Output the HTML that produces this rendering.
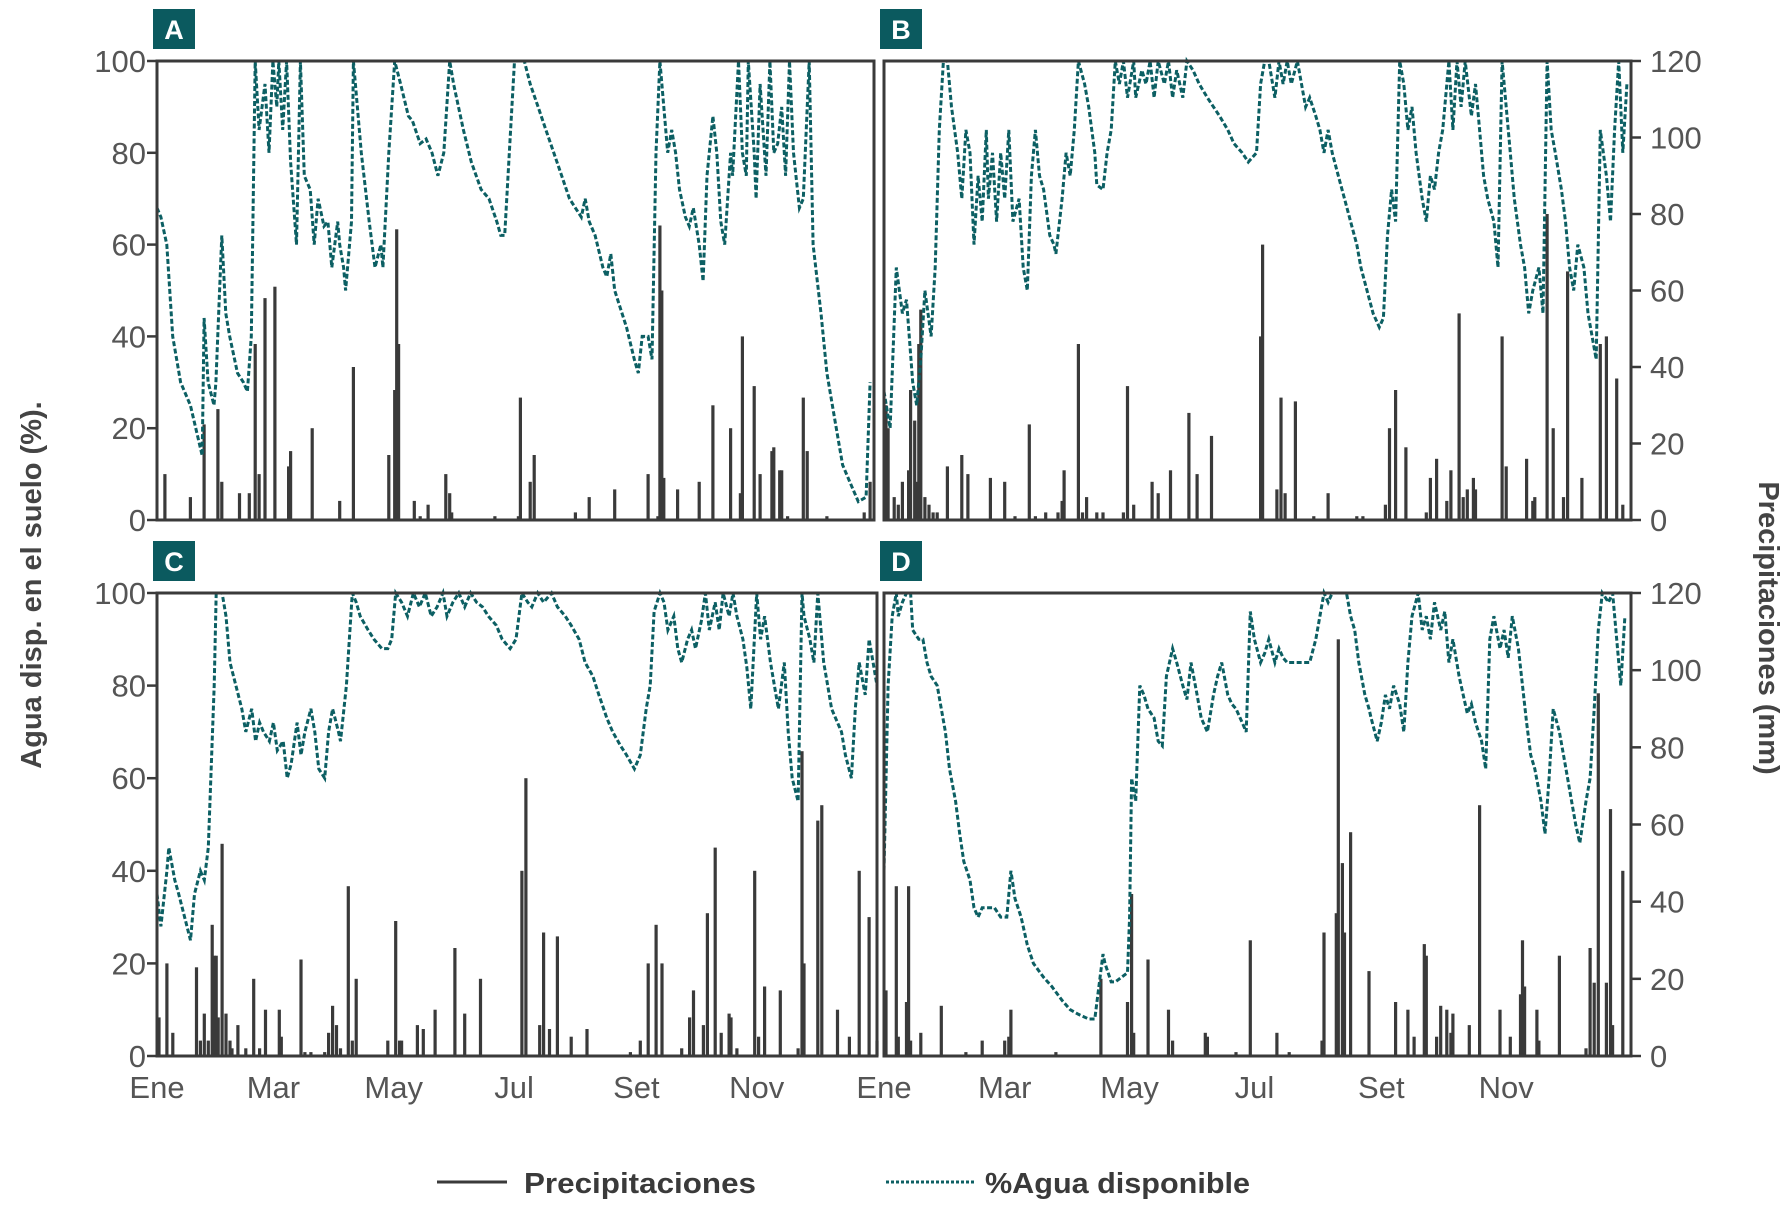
<!DOCTYPE html>
<html><head><meta charset="utf-8"><style>
html,body{margin:0;padding:0;background:#fff;}
svg{display:block;font-family:"Liberation Sans",sans-serif;}
</style></head><body>
<svg id="chart" width="1791" height="1207" viewBox="0 0 1791 1207" xmlns="http://www.w3.org/2000/svg"></svg>
<script>
const monthLabels=["Ene","Mar","May","Jul","Set","Nov"];
const monthDays=[0,59,120,181,243,304];
const leftTicks=[0,20,40,60,80,100];
const rightTicks=[0,20,40,60,80,100,120];
const panelLetters=["A","B","C","D"];
// Panel A
const waterDaysA=[0,2,5,8,12,17,23,24,26,29,30,33,35,37,41,44,46,48,50,52,55,57,59,61,62,64,66,68,71,73,75,78,80,82,85,87,89,92,93,95,96,99,100,101,104,108,111,114,115,118,121,124,128,130,134,137,140,143,146,149,151,156,160,165,169,173,175,177,180,182,187,190,194,198,202,206,210,213,216,218,220,223,227,229,231,233,236,239,243,245,247,250,252,254,256,258,260,262,264,266,269,271,273,276,278,280,283,285,287,289,292,293,296,298,300,301,304,305,307,310,312,314,316,318,320,322,324,327,329,332,334,338,341,345,349,353,357,361,363];
const waterValsA=[68,66,60,40,30,25,14,44,30,25,30,62,45,40,32,30,28,40,100,85,95,80,100,90,100,85,100,78,60,100,75,72,60,70,64,65,55,65,60,55,50,65,100,95,80,65,55,60,55,80,100,95,88,87,82,83,80,75,80,100,95,85,78,72,70,65,62,62,85,100,100,95,90,85,80,75,70,68,66,70,65,62,55,53,58,50,46,42,35,32,40,40,35,80,100,90,80,85,80,72,66,64,68,60,52,75,88,80,65,60,80,75,100,80,75,100,80,70,95,75,100,80,82,90,75,100,80,68,70,100,60,45,32,22,12,8,4,5,30];
const rainDaysA=[4,17,24,31,33,42,47,50,52,55,60,67,68,79,93,100,118,121,122,123,131,134,138,147,149,150,172,184,185,190,192,213,220,233,250,255,256,257,258,265,276,283,292,297,298,304,307,313,314,317,318,321,329,331,341,360,363];
const rainMmA=[12,6,25,29,10,7,7,46,12,58,61,14,18,24,5,40,17,34,76,46,5,1,4,12,7,2,1,1,32,10,17,2,6,8,12,1,77,60,11,8,10,30,24,7,48,35,12,18,19,13,13,1,32,18,1,2,10];
// Panel B
const waterDaysB=[0,3,6,9,11,14,16,18,20,23,25,27,29,31,33,36,38,40,42,44,46,48,50,51,53,55,57,59,61,63,66,68,70,72,74,76,78,81,83,84,87,89,91,93,95,98,100,103,104,107,109,111,113,115,117,119,122,123,126,128,130,132,134,137,139,141,143,146,148,151,154,158,161,164,168,171,175,178,182,184,186,188,191,193,195,197,199,202,204,206,208,211,213,215,217,219,222,225,228,231,233,236,239,242,244,246,248,250,252,254,256,258,260,263,265,267,269,271,273,276,278,280,282,284,287,289,291,293,295,298,300,302,304,306,308,311,313,315,317,320,322,324,326,328,331,333,335,337,339,342,344,346,348,350,353,355,357,359,361,363];
const waterValsB=[28,20,55,45,48,30,25,35,50,40,55,85,100,100,90,80,70,85,80,60,75,65,85,70,80,65,80,70,85,65,70,55,50,75,85,75,72,62,60,58,70,80,75,85,100,95,90,80,73,72,80,85,100,95,100,92,100,92,98,95,100,92,100,95,100,92,98,92,100,98,95,92,90,88,85,82,80,78,80,95,100,100,92,100,95,100,95,100,95,90,92,88,85,80,85,80,75,70,65,60,55,50,45,42,44,62,72,65,100,95,85,90,80,70,65,75,72,80,85,100,85,100,90,100,88,95,85,75,70,65,55,100,90,80,70,60,55,45,50,55,45,100,85,80,72,65,55,50,60,55,45,40,35,85,75,65,85,100,80,95];
const rainDaysB=[1,2,5,7,9,12,13,15,16,17,18,20,22,24,26,31,38,41,52,59,64,71,74,79,85,87,88,95,97,99,104,107,117,119,122,131,134,140,149,153,160,184,185,192,194,196,201,210,217,231,234,245,247,250,255,265,267,270,275,277,281,283,285,288,289,302,304,314,317,318,324,327,332,334,341,350,353,358,361];
const rainMmB=[30,24,6,4,10,13,34,26,10,46,55,6,4,2,2,14,17,12,11,10,1,25,1,2,2,5,13,46,2,6,2,2,2,35,4,10,7,13,28,12,22,48,72,8,32,7,31,1,7,1,1,4,24,34,19,2,11,16,5,13,54,6,8,11,8,48,14,16,5,6,80,24,6,65,11,46,48,37,4];
// Panel C
const waterDaysC=[0,2,5,6,9,11,14,17,19,22,24,26,29,30,33,35,37,40,43,45,48,50,52,54,57,59,61,64,66,68,71,73,75,78,80,82,85,87,89,92,93,96,99,101,103,107,110,114,117,119,121,124,127,130,133,136,139,142,145,147,150,153,156,159,162,165,168,172,175,179,182,185,188,190,193,196,200,203,207,210,214,217,221,224,228,231,235,238,242,245,248,250,252,255,257,259,262,264,266,269,271,273,276,278,280,283,285,287,290,292,294,297,299,301,304,306,308,311,313,315,318,320,322,325,327,328,331,333,335,338,340,342,345,347,349,352,354,356,359,361,363,365];
const waterValsC=[35,28,40,45,38,35,30,25,35,40,38,45,80,100,100,95,85,80,75,70,75,68,72,70,68,72,66,68,60,63,72,65,70,75,70,62,60,70,75,70,68,80,100,98,95,92,90,88,88,90,100,98,95,100,97,100,95,97,100,95,98,100,97,100,98,97,95,93,90,88,90,100,98,97,100,98,100,97,95,93,90,85,82,78,73,70,67,65,62,65,75,80,96,100,98,92,95,88,85,90,92,88,94,100,92,98,92,100,95,100,95,90,84,75,100,90,95,85,80,75,85,70,60,55,100,95,90,85,100,85,80,75,72,70,65,60,75,85,78,90,85,80];
const rainDaysC=[1,5,8,20,22,24,26,28,29,30,31,33,35,37,38,41,45,49,52,55,62,63,73,75,78,85,87,89,91,93,97,99,101,117,121,123,124,132,135,141,151,156,164,185,187,194,196,199,203,210,218,240,245,249,253,256,266,270,272,277,279,283,286,290,291,294,303,305,308,316,325,327,328,335,337,345,351,356,361,365];
const rainMmC=[10,24,6,23,4,11,4,34,26,26,10,55,11,4,2,8,2,20,2,12,12,5,25,1,1,1,6,13,8,2,44,4,20,4,35,4,4,8,7,12,28,11,20,48,72,8,32,7,31,5,7,1,4,24,34,24,2,10,17,8,37,54,6,11,10,2,48,5,18,17,2,79,24,61,65,12,5,48,36,4];
// Panel D
const waterDaysD=[0,2,4,6,7,9,11,13,14,17,19,21,23,26,28,30,32,35,37,39,42,44,46,48,51,54,57,60,62,64,67,70,73,78,82,87,91,95,100,103,105,107,108,111,113,116,119,120,121,123,125,127,129,132,134,136,138,141,143,146,148,150,153,155,158,161,163,165,168,170,172,175,177,179,181,184,186,188,191,193,195,197,200,202,205,208,211,213,215,217,219,222,224,226,228,230,232,235,237,238,241,243,245,247,249,252,254,256,258,261,263,265,267,269,272,274,276,278,281,283,285,287,289,292,294,296,298,301,303,305,307,310,312,314,316,318,321,323,325,327,330,332,334,336,338,340,343,345,347,349,351,354,356,358,360,362];
const waterValsD=[40,80,95,100,95,98,100,100,92,90,90,85,82,80,75,70,62,55,48,42,38,32,30,32,32,32,30,30,40,34,30,24,20,17,15,12,10,9,8,8,15,22,20,16,16,17,18,30,60,55,80,78,75,73,68,67,82,88,85,80,77,85,78,73,70,78,82,85,78,76,75,72,70,96,90,85,87,90,85,88,86,85,85,85,85,85,90,95,100,98,100,100,100,100,95,92,85,78,75,73,68,72,78,75,80,76,70,85,95,100,92,95,90,98,92,96,85,90,82,78,74,76,72,68,62,90,95,88,92,86,95,88,80,72,65,62,55,48,60,75,70,65,60,55,50,46,55,60,75,92,100,98,100,90,80,95];
const rainDaysD=[1,6,7,11,12,13,18,28,40,48,59,61,62,84,106,119,121,122,129,139,141,157,158,172,179,192,198,214,215,221,222,224,225,228,237,250,256,259,264,265,270,272,275,277,278,286,291,301,306,311,312,313,319,320,330,343,345,347,349,353,355,356,361];
const rainMmD=[17,44,5,14,44,4,6,13,1,4,4,5,12,1,20,14,42,6,25,12,4,6,5,1,30,6,1,4,32,37,108,50,32,58,22,14,12,5,29,26,5,13,12,6,11,8,65,12,5,16,30,18,12,4,26,2,28,19,94,19,64,8,48];

const panels=[
 {x0:157,x1:874,y0:61,y1:520,side:"left",months:false,wd:waterDaysA,wv:waterValsA,rd:rainDaysA,rm:rainMmA},
 {x0:884,x1:1631,y0:61,y1:520,side:"right",months:false,wd:waterDaysB,wv:waterValsB,rd:rainDaysB,rm:rainMmB},
 {x0:157,x1:877,y0:593,y1:1056,side:"left",months:true,wd:waterDaysC,wv:waterValsC,rd:rainDaysC,rm:rainMmC},
 {x0:884,x1:1631,y0:593,y1:1056,side:"right",months:true,wd:waterDaysD,wv:waterValsD,rd:rainDaysD,rm:rainMmD}
];
const NS="http://www.w3.org/2000/svg";
const svg=document.getElementById("chart");
function mk(tag,attrs,parent){const e=document.createElementNS(NS,tag);for(const k in attrs)e.setAttribute(k,attrs[k]);(parent||svg).appendChild(e);return e;}
const AX="#3a3a3a",TEAL="#0c5f63",LBL="#555";
panels.forEach((p,i)=>{
 const g=mk("g",{});
 
 
 const xS=d=>p.x0+d/365*(p.x1-p.x0);
 const yW=v=>p.y1-v/100*(p.y1-p.y0);
 const yR=v=>p.y1-v/120*(p.y1-p.y0);
 // bars
 p.rd.forEach((d,j)=>{
  const b=mk("rect",{x:(xS(d)-1.6).toFixed(1),y:yR(p.rm[j]).toFixed(1),width:3.2,height:(p.y1-yR(p.rm[j])).toFixed(1),fill:AX},g);
  
  
 });
 // water line
 const pts=p.wd.map((d,j)=>xS(d).toFixed(1)+","+yW(Math.min(p.wv[j],100)).toFixed(1)).join(" ");
 const ln=mk("polyline",{points:pts,fill:"none",stroke:TEAL,"stroke-width":3,"stroke-dasharray":"5 2.5"},g);
 
 
 // frame
 const fr=mk("rect",{x:p.x0,y:p.y0,width:p.x1-p.x0,height:p.y1-p.y0,fill:"none",stroke:AX,"stroke-width":3},g);
 
 
 // ticks
 if(p.side==="left"){
  leftTicks.forEach(t=>{
   const y=yW(t);
   mk("line",{x1:p.x0-10,x2:p.x0,y1:y,y2:y,stroke:AX,"stroke-width":2.5},g);
   const tx=mk("text",{x:146,y:y+11,"text-anchor":"end","font-size":31,fill:LBL},g);
   tx.textContent=t;
   
   
  });
 } else {
  rightTicks.forEach(t=>{
   const y=yR(t);
   mk("line",{x1:p.x1,x2:p.x1+10,y1:y,y2:y,stroke:AX,"stroke-width":2.5},g);
   const tx=mk("text",{x:1650,y:y+11,"text-anchor":"start","font-size":31,fill:LBL},g);
   tx.textContent=t;
   
   
  });
 }
 if(p.months){
  monthLabels.forEach((m,j)=>{
   const tx=mk("text",{x:xS(monthDays[j]),y:1098,"text-anchor":"middle","font-size":31,fill:LBL},g);
   tx.textContent=m;
   
   
  });
 }
 // letter badge
 const bx=p.x0-4;
 const by=p.y0-52;
 const badge=mk("rect",{x:bx,y:by,width:42,height:40,fill:"#0b5a5f"},g);
 
 
 const lt=mk("text",{x:bx+21,y:by+30,"text-anchor":"middle","font-size":27,"font-weight":"bold",fill:"#fff"},g);
 lt.textContent=panelLetters[i];
 
 
});
</script>
<svg width="0" height="0"></svg>
<script>
(function(){
const NS="http://www.w3.org/2000/svg";
const svg=document.getElementById("chart");
function mk(tag,attrs){const e=document.createElementNS(NS,tag);for(const k in attrs)e.setAttribute(k,attrs[k]);svg.appendChild(e);return e;}
const yl=mk("text",{x:0,y:0,transform:"translate(41,585) rotate(-90)","text-anchor":"middle","font-size":29,"font-weight":"bold",fill:"#444"});
yl.textContent="Agua disp. en el suelo (%).";


const yr=mk("text",{x:0,y:0,transform:"translate(1759,628) rotate(90)","text-anchor":"middle","font-size":29,"font-weight":"bold",fill:"#444"});
yr.textContent="Precipitaciones (mm)";


const l1=mk("line",{x1:437,x2:507,y1:1182,y2:1182,stroke:"#3a3a3a","stroke-width":3});


const t1=mk("text",{x:524,y:1193,"font-size":29,"font-weight":"bold",fill:"#3a3a3a",textLength:232,lengthAdjust:"spacingAndGlyphs"});
t1.textContent="Precipitaciones";


const l2=mk("line",{x1:886,x2:974,y1:1182,y2:1182,stroke:"#0c5f63","stroke-width":3,"stroke-dasharray":"3 2"});


const t2=mk("text",{x:985,y:1193,"font-size":29,"font-weight":"bold",fill:"#3a3a3a",textLength:265,lengthAdjust:"spacingAndGlyphs"});
t2.textContent="%Agua disponible";


})();
</script>
</body></html>
